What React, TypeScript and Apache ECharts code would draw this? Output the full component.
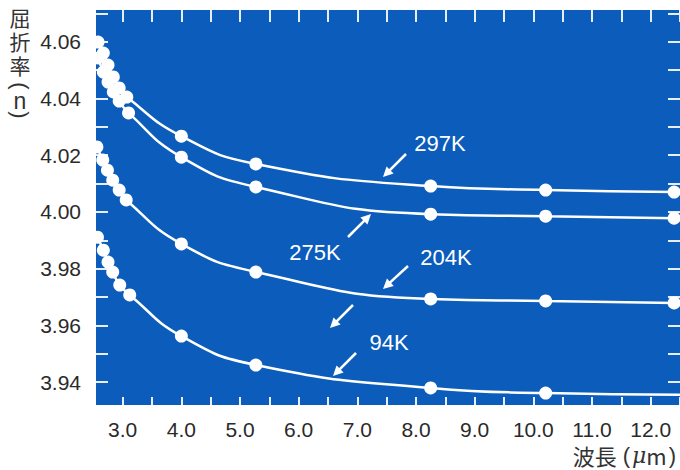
import React, { useEffect, useRef } from "react";
import * as echarts from "echarts";

// wavelength (μm) and refractive index per temperature curve
const X_297 = [2.58, 2.67, 2.75, 2.84, 2.94, 3.07, 4.0, 5.27, 8.25, 10.21, 12.4];
const N_297 = [4.0599, 4.056, 4.0518, 4.0476, 4.0437, 4.0405, 4.0267, 4.0169, 4.0091, 4.0077, 4.007];
const X_275 = [2.58, 2.67, 2.75, 2.84, 2.94, 3.1, 4.0, 5.27, 8.25, 10.21, 12.4];
const N_275 = [4.0543, 4.0493, 4.0458, 4.0423, 4.0391, 4.0349, 4.0193, 4.0088, 3.9992, 3.9985, 3.9978];
const X_204 = [2.56, 2.66, 2.74, 2.83, 2.94, 3.06, 4.0, 5.27, 8.25, 10.21, 12.4];
const N_204 = [4.0229, 4.0183, 4.0147, 4.0112, 4.0077, 4.0042, 3.9887, 3.9788, 3.9693, 3.9686, 3.9679];
const X_94 = [2.57, 2.67, 2.75, 2.83, 2.95, 3.12, 4.0, 5.27, 8.25, 10.21, 12.5];
const N_94 = [3.9911, 3.9865, 3.9823, 3.9788, 3.9742, 3.9707, 3.9562, 3.946, 3.9379, 3.9361, 3.9355];
const HIDDEN_END_94 = [false, false, false, false, false, false, false, false, false, false, true];

const X_TICKS = [3, 3.5, 4, 4.5, 5, 5.5, 6, 6.5, 7, 7.5, 8, 8.5, 9, 9.5, 10, 10.5, 11, 11.5, 12, 12.5];
const X_LABELS = [3, 4, 5, 6, 7, 8, 9, 10, 11, 12];
const Y_TICKS = [3.94, 3.95, 3.96, 3.97, 3.98, 3.99, 4.0, 4.01, 4.02, 4.03, 4.04, 4.05, 4.06, 4.07];
const Y_LABELS = [3.94, 3.96, 3.98, 4.0, 4.02, 4.04, 4.06];

const CURVE_LABELS = ["297K", "275K", "204K", "94K"];

function arrow(x1: number, y1: number, x2: number, y2: number) {
  const dx = x2 - x1;
  const dy = y2 - y1;
  const len = Math.sqrt(dx * dx + dy * dy);
  const ux = dx / len;
  const uy = dy / len;
  const hl = 10;
  const hw = 5;
  const bx = x2 - ux * hl;
  const by = y2 - uy * hl;
  const px = -uy;
  const py = ux;
  return {
    type: "group",
    children: [
      {
        type: "line",
        shape: { x1, y1, x2: bx + ux * 1, y2: by + uy * 1 },
        style: { stroke: "#ffffff", lineWidth: 2.5 },
      },
      {
        type: "polygon",
        shape: {
          points: [
            [x2, y2],
            [bx + px * hw, by + py * hw],
            [bx - px * hw, by - py * hw],
          ],
        },
        style: { fill: "#ffffff" },
      },
    ],
  };
}

export default function App() {
  const ref = useRef<HTMLDivElement>(null);
  useEffect(() => {
    if (!ref.current) return;
    const chart = echarts.init(ref.current, null, { renderer: "svg" });
    const mk = (xs: number[], ys: number[], hidden?: boolean[]) =>
      xs.map((x, i) =>
        hidden && hidden[i] ? { value: [x, ys[i]], symbol: "none" } : { value: [x, ys[i]] }
      );
    const seriesBase = {
      type: "line",
      smooth: 0.5,
      symbol: "circle",
      symbolSize: 13,
      showAllSymbol: true,
      itemStyle: { color: "#ffffff", borderWidth: 0 },
      lineStyle: { color: "#ffffff", width: 2.5 },
      xAxisIndex: 0,
      yAxisIndex: 0,
    };
    const tickColor = "#e6eef9";
    const labelFont = "'Liberation Sans', Arial, sans-serif";
    const cjk = "'Noto Sans CJK JP', sans-serif";
    const nameColor = "#333333";
    const vText = (t: string, y: number, font: string, rot?: number) => ({
      type: "text",
      x: 20,
      y,
      rotation: rot || 0,
      style: { text: t, font, fill: nameColor, align: "center", verticalAlign: "middle" },
    });
    chart.setOption({
      animation: false,
      grid: {
        left: 96,
        right: 0,
        top: 10,
        bottom: 65,
        show: true,
        backgroundColor: "#0b5cbb",
        borderWidth: 0,
      },
      xAxis: [
        {
          type: "value",
          position: "bottom",
          min: 2.545,
          max: 12.5,
          axisLine: { show: false },
          splitLine: { show: false },
          axisTick: {
            show: true,
            inside: true,
            length: 8,
            customValues: X_TICKS,
            lineStyle: { color: tickColor, width: 2 },
          },
          axisLabel: {
            customValues: X_LABELS,
            formatter: (v: number) => v.toFixed(1),
            color: "#2a2a2a",
            fontSize: 21,
            fontFamily: labelFont,
            margin: 14,
          },
        },
        {
          type: "value",
          position: "top",
          min: 2.545,
          max: 12.5,
          axisLine: { show: false },
          splitLine: { show: false },
          axisTick: {
            show: true,
            inside: true,
            length: 12,
            customValues: X_TICKS,
            lineStyle: { color: tickColor, width: 2 },
          },
          axisLabel: { show: false },
        },
      ],
      yAxis: [
        {
          type: "value",
          position: "left",
          min: 3.9319,
          max: 4.0712,
          axisLine: { show: false },
          splitLine: { show: false },
          axisTick: {
            show: true,
            inside: true,
            length: 12,
            customValues: Y_TICKS,
            lineStyle: { color: tickColor, width: 2 },
          },
          axisLabel: {
            customValues: Y_LABELS,
            formatter: (v: number) => v.toFixed(2),
            color: "#2a2a2a",
            fontSize: 21,
            fontFamily: labelFont,
            margin: 15,
          },
        },
        {
          type: "value",
          position: "right",
          min: 3.9319,
          max: 4.0712,
          axisLine: { show: false },
          splitLine: { show: false },
          axisTick: {
            show: true,
            inside: true,
            length: 12,
            customValues: Y_TICKS,
            lineStyle: { color: tickColor, width: 2 },
          },
          axisLabel: { show: false },
        },
      ],
      series: [
        { ...seriesBase, name: CURVE_LABELS[0], data: mk(X_297, N_297) },
        { ...seriesBase, name: CURVE_LABELS[1], data: mk(X_275, N_275) },
        { ...seriesBase, name: CURVE_LABELS[2], data: mk(X_204, N_204) },
        { ...seriesBase, name: CURVE_LABELS[3], data: mk(X_94, N_94, HIDDEN_END_94) },
      ],
      graphic: [
        // y-axis name (vertical)
        vText("屈", 17, `21px ${cjk}`),
        vText("折", 41, `21px ${cjk}`),
        vText("率", 65, `21px ${cjk}`),
        vText("(", 86, `22px ${labelFont}`, -Math.PI / 2),
        vText("n", 101, `23px ${labelFont}`),
        vText(")", 115, `22px ${labelFont}`, -Math.PI / 2),
        // x-axis name
        {
          type: "text",
          x: 676,
          y: 455,
          style: {
            text: "{a|波長}{p|(}{b|μ}{a|m}{q|)}",
            align: "right",
            verticalAlign: "middle",
            rich: {
              a: { font: `22px ${cjk}`, fill: nameColor },
              p: { font: `22px ${labelFont}`, fill: nameColor, padding: [0, 2, 0, 6] },
              q: { font: `22px ${labelFont}`, fill: nameColor, padding: [0, 0, 0, 2] },
              b: { font: `italic 22px 'DejaVu Serif', serif`, fill: nameColor },
            },
          },
        },
        // curve labels
        { type: "text", x: 440, y: 143, style: { text: CURVE_LABELS[0], font: `22px ${labelFont}`, fill: "#fff", align: "center", verticalAlign: "middle" } },
        { type: "text", x: 315, y: 252, style: { text: CURVE_LABELS[1], font: `22px ${labelFont}`, fill: "#fff", align: "center", verticalAlign: "middle" } },
        { type: "text", x: 446, y: 257, style: { text: CURVE_LABELS[2], font: `22px ${labelFont}`, fill: "#fff", align: "center", verticalAlign: "middle" } },
        { type: "text", x: 389, y: 342, style: { text: CURVE_LABELS[3], font: `22px ${labelFont}`, fill: "#fff", align: "center", verticalAlign: "middle" } },
        arrow(406, 154, 383, 177),
        arrow(348, 237, 371, 214),
        arrow(408, 266, 383, 289),
        arrow(353, 305, 330, 328),
        arrow(356, 353, 333, 376),
      ],
    });
    return () => chart.dispose();
  }, []);
  return (
    <div
      ref={ref}
      style={{ position: "fixed", left: 0, top: 0, width: 680, height: 470, background: "#ffffff" }}
    />
  );
}
